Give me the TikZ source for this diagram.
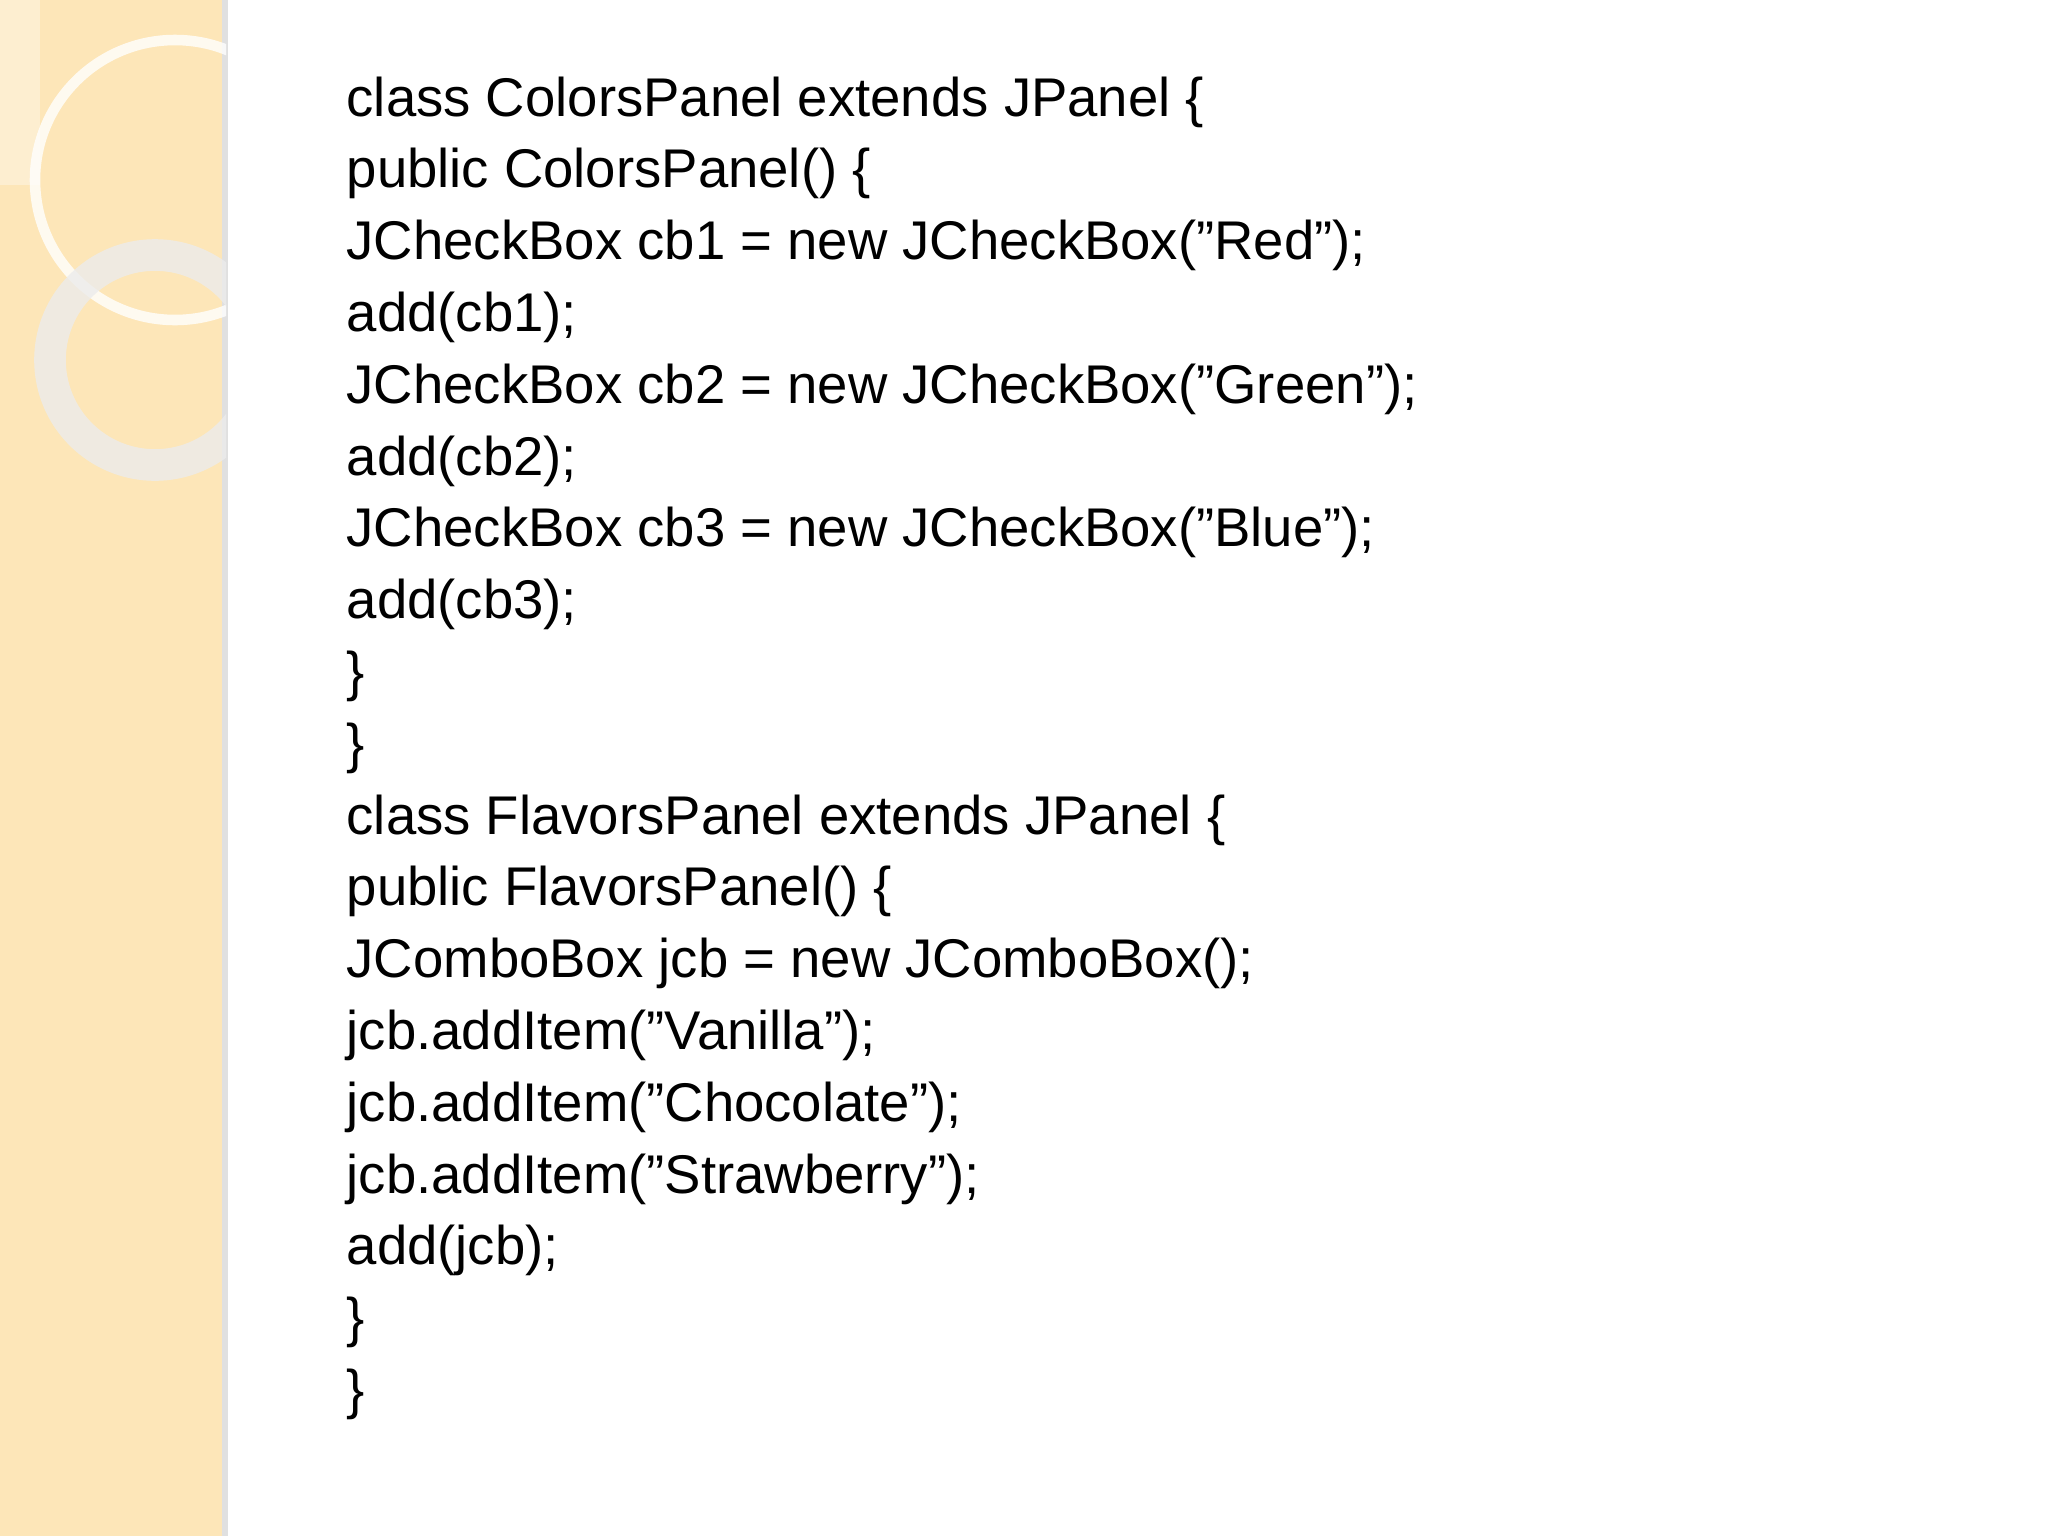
\documentclass[tikz,border=0pt]{standalone}
\usepackage{fontspec}
\setmainfont{Liberation Sans}
\begin{document}
\begin{tikzpicture}[x=0.01cm,y=-0.01cm,
  code/.style={anchor=base west,inner sep=0pt,font=\fontsize{15.5pt}{18pt}\selectfont}]
\useasboundingbox (0,0) rectangle (2048,1536);
\fill[white] (0,0) rectangle (2048,1536);
\fill[yellow!30!orange!25!white] (0,0) rectangle (226,1536);
\fill[black!12] (222,0) rectangle (228,1536);
\begin{scope}
\clip (0,0) rectangle (226,1536);
\fill[white,opacity=0.35] (0,0) rectangle (40,185);
\draw[white,line width=3pt,opacity=0.8] (175,180) circle (140);
\draw[white!85!gray,line width=9pt,opacity=0.8] (155,360) circle (105);
\end{scope}
\foreach \t [count=\i from 0] in {
 {class ColorsPanel extends JPanel \{},
 {public ColorsPanel() \{},
 {JCheckBox cb1 = new JCheckBox("Red");},
 {add(cb1);},
 {JCheckBox cb2 = new JCheckBox("Green");},
 {add(cb2);},
 {JCheckBox cb3 = new JCheckBox("Blue");},
 {add(cb3);},
 {\}},
 {\}},
 {class FlavorsPanel extends JPanel \{},
 {public FlavorsPanel() \{},
 {JComboBox jcb = new JComboBox();},
 {jcb.addItem("Vanilla");},
 {jcb.addItem("Chocolate");},
 {jcb.addItem("Strawberry");},
 {add(jcb);},
 {\}},
 {\}}}
 \node[code] (l\i) at (346,{116+71.8*\i}) {\t};
\end{tikzpicture}
\end{document}
